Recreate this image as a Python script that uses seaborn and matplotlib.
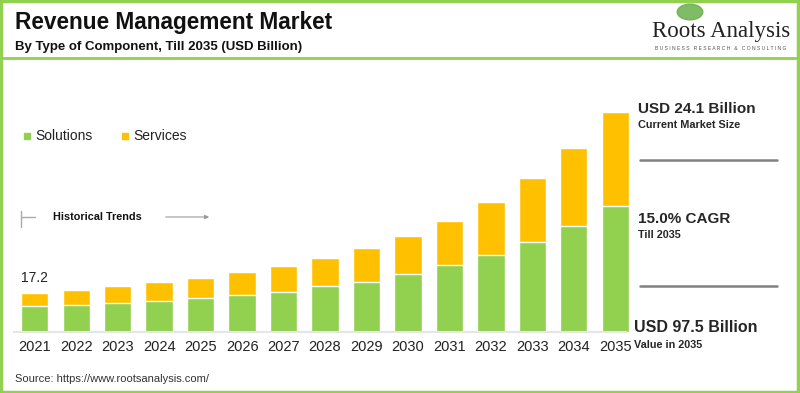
import matplotlib
matplotlib.use("Agg")
import matplotlib.pyplot as plt
import seaborn as sns
from matplotlib.patches import Rectangle, Ellipse
from matplotlib.lines import Line2D

# data (USD billion)
years = [str(y) for y in range(2021, 2036)]
solutions = [11.5, 12.1, 13.0, 13.9, 15.2, 16.5, 17.9, 20.3, 22.3, 25.7, 29.6, 34.3, 39.8, 47.1, 55.7]
totals = [17.2, 18.5, 20.3, 22.2, 24.1, 26.6, 29.3, 32.8, 37.2, 42.6, 49.2, 57.8, 68.1, 81.4, 97.5]

GREEN = "#92D050"
ORANGE = "#FFC000"

sns.set_style("white")
plt.rcParams['font.family'] = ['Liberation Sans', 'DejaVu Sans']

W, H = 800, 393
fig = plt.figure(figsize=(8, 3.93), dpi=100)

def fx(px):
    return px / W

def fy(py):
    return 1 - py / H

# bar axes
ax = fig.add_axes([fx(14), fy(332), fx(636) - fx(14), (332 - 106.4) / H])
sns.barplot(x=years, y=totals, color=ORANGE, width=0.66, ax=ax, saturation=1)
sns.barplot(x=years, y=solutions, color=GREEN, width=0.66, ax=ax, saturation=1)
ax.set_ylim(0, 100)
ax.set_xlim(-0.5, 14.5)
ax.set_xlabel("")
ax.set_ylabel("")
ax.set_yticks([])
ax.tick_params(axis='x', length=0, labelsize=10.5, labelcolor="#222222", pad=6)
sns.despine(ax=ax, left=True, top=True, right=True)
ax.spines['bottom'].set_color("#e6e6e6")
ax.spines['bottom'].set_linewidth(1.5)
ax.spines['bottom'].set_bounds(-0.5, 14.25)
ax.text(0, totals[0] + 3.5, "17.2", ha='center', va='bottom', fontsize=10, color="#222222")

# frame and header line
fig.add_artist(Rectangle((fx(1), fy(392)), fx(797), (391) / H, transform=fig.transFigure,
                         fill=False, edgecolor=GREEN, linewidth=2.5))
fig.add_artist(Line2D([fx(1), fx(798)], [fy(58), fy(58)], transform=fig.transFigure,
                      color=GREEN, linewidth=2))

# titles
fig.text(fx(15), fy(22), "Revenue Management Market", fontsize=16.3, fontweight='bold',
         va='center', ha='left', color="#111111")
fig.text(fx(15), fy(47), "By Type of Component, Till 2035 (USD Billion)", fontsize=9.5,
         fontweight='bold', va='center', ha='left', color="#111111")

# logo
fig.add_artist(Ellipse((fx(690), fy(12)), 0.032, 0.04, transform=fig.transFigure,
                       color="#6ab04c", alpha=0.85))
fig.text(fx(721), fy(31), "Roots Analysis", fontsize=16.5, family='Liberation Serif',
         ha='center', va='center', color="#222222")
fig.text(fx(721), fy(48), " ".join("BUSINESS RESEARCH & CONSULTING"), fontsize=3.6,
         ha='center', va='center', color="#555555")

# legend
fig.add_artist(Rectangle((fx(24), fy(139)), fx(6), 6 / H, transform=fig.transFigure, color=GREEN))
fig.text(fx(35), fy(136), "Solutions", fontsize=10, va='center', color="#222222")
fig.add_artist(Rectangle((fx(122), fy(139)), fx(6), 6 / H, transform=fig.transFigure, color=ORANGE))
fig.text(fx(133), fy(136), "Services", fontsize=10, va='center', color="#222222")

# historical trends marker
fig.add_artist(Line2D([fx(21), fx(21)], [fy(211), fy(227)], transform=fig.transFigure,
                      color="#aaaaaa", linewidth=1))
fig.add_artist(Line2D([fx(21), fx(35)], [fy(217), fy(217)], transform=fig.transFigure,
                      color="#aaaaaa", linewidth=1))
fig.text(fx(53), fy(217), "Historical Trends", fontsize=7.8, fontweight='bold',
         va='center', color="#111111")
fig.add_artist(matplotlib.patches.FancyArrowPatch((fx(163), fy(217)), (fx(212), fy(217)),
                                                  transform=fig.transFigure, arrowstyle='-|>',
                                                  mutation_scale=6, color="#999999", linewidth=0.8))

# right-hand panel
fig.text(fx(638), fy(109), "USD 24.1 Billion", fontsize=11, fontweight='bold', va='center')
fig.text(fx(638), fy(125), "Current Market Size", fontsize=7.8, fontweight='bold', va='center')
fig.add_artist(Line2D([fx(640), fx(777)], [fy(160), fy(160)], transform=fig.transFigure,
                      color="#808080", linewidth=1.8))
fig.text(fx(638), fy(219), "15.0% CAGR", fontsize=11, fontweight='bold', va='center')
fig.text(fx(638), fy(235), "Till 2035", fontsize=7.8, fontweight='bold', va='center')
fig.add_artist(Line2D([fx(640), fx(777)], [fy(286), fy(286)], transform=fig.transFigure,
                      color="#808080", linewidth=1.8))
fig.text(fx(634), fy(327), "USD 97.5 Billion", fontsize=11.5, fontweight='bold', va='center')
fig.text(fx(634), fy(345), "Value in 2035", fontsize=7.8, fontweight='bold', va='center')

# source
fig.text(fx(15), fy(379), "Source: https://www.rootsanalysis.com/", fontsize=8,
         va='center', color="#333333")

fig.savefig("out.png", dpi=100)
